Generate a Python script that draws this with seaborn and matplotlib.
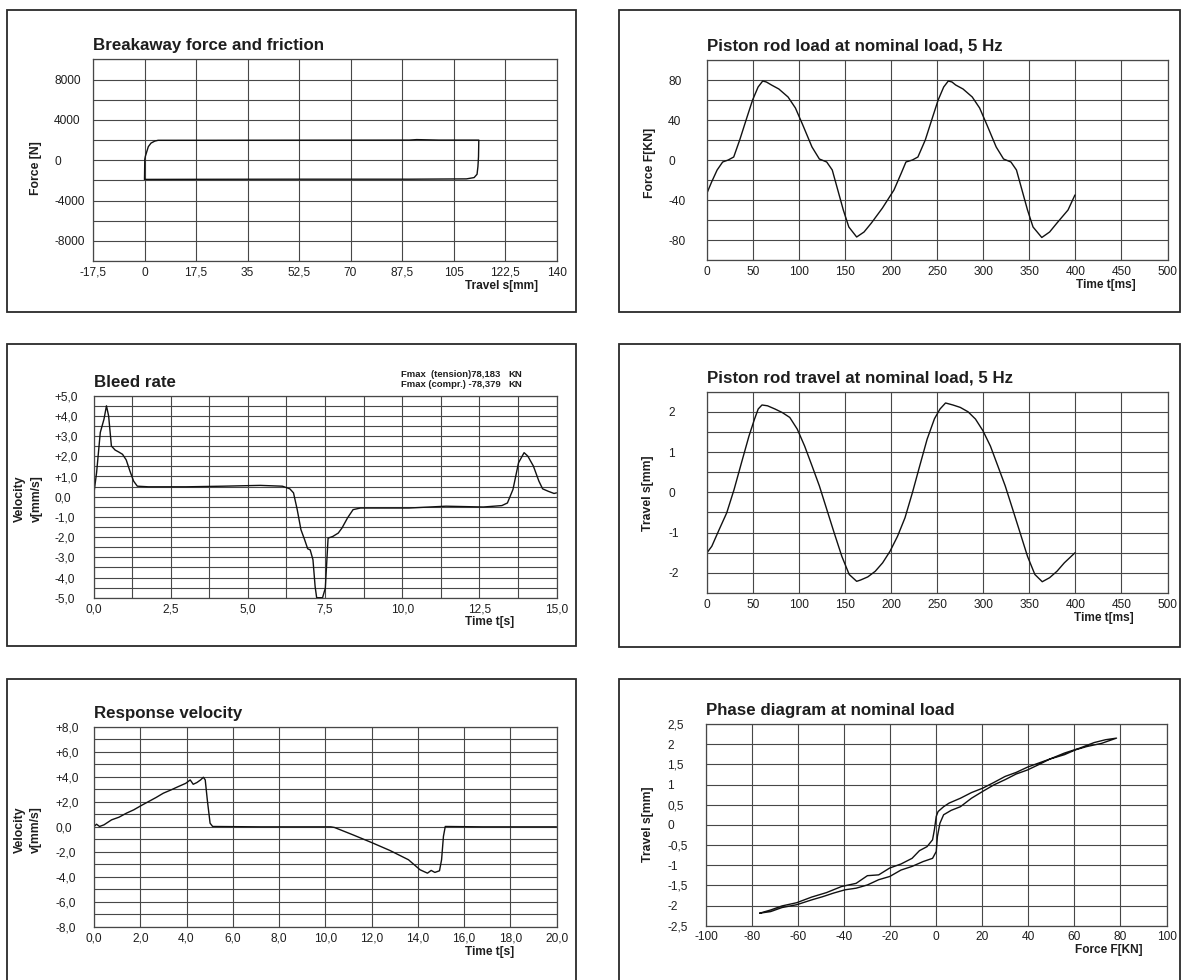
import matplotlib
matplotlib.use("Agg")
import matplotlib.pyplot as plt
from matplotlib.patches import Rectangle
import seaborn as sns
import pandas as pd

sns.set_theme(style="white")
plt.rcParams['font.family'] = ['Liberation Sans', 'DejaVu Sans']

# ---------------- data ----------------
# Panel 1: Breakaway force and friction
p1_travel = [0.0, 0.1, 0.3, 1.3, 2.2, 3.5, 4.6, 20.0, 50.0, 90.0, 92.5, 100.0, 113.6,
             113.5, 113.3, 113.0, 112.0, 109.4, 90.0, 50.0, 20.0, 0.0]
p1_force = [-1900, 100, 400, 1350, 1700, 1900, 1980, 1980, 1990, 2000, 2050, 2000, 2000,
            360, -630, -1390, -1720, -1850, -1880, -1880, -1890, -1900]
p1_xticks = [-17.5, 0, 17.5, 35, 52.5, 70, 87.5, 105, 122.5, 140]
p1_xlabels = ["-17,5", "0", "17,5", "35", "52,5", "70", "87,5", "105", "122,5", "140"]
p1_yticks = [-8000, -4000, 0, 4000, 8000]
p1_ylabels = ["-8000", "-4000", "0", "4000", "8000"]

# Panel 2: Piston rod load at nominal load, 5 Hz
p2_time = [0, 0, 5, 11, 17, 23, 29, 35.5, 43.5, 49.5, 55.5, 60.5, 64.5, 70, 78, 88, 96,
           104, 114, 122, 130, 136, 142, 148, 154, 162.5, 170.5, 178.5, 190.5, 203, 211,
           216, 223, 229, 237, 245, 251, 257, 262, 266, 270, 278, 288, 296, 304, 314,
           322, 330, 336, 342, 348, 354, 363.5, 372, 380, 392, 399.5]
p2_force = [0, -33, -22, -10, -2, 0, 3, 20, 43, 60, 73, 79, 78, 75, 71, 63, 52,
            35, 13, 1, -2, -10, -30, -50, -67, -77, -72, -63, -48, -30, -13,
            -2, 0, 3, 20, 43, 60, 73, 79, 78, 75, 71, 63, 52, 35, 13,
            1, -2, -10, -30, -50, -67, -77.5, -72, -63, -50, -35]
p2_xticks = [0, 50, 100, 150, 200, 250, 300, 350, 400, 450, 500]
p2_yticks = [-80, -40, 0, 40, 80]

# Panel 3: Bleed rate
p3_time = [0.0, 0.1, 0.22, 0.34, 0.42, 0.49, 0.58, 0.7, 0.82, 0.94, 1.06, 1.18, 1.3, 1.42,
           1.78, 3.0, 4.19, 5.4, 6.12, 6.36, 6.48, 6.6, 6.72, 6.84, 6.94, 7.02, 7.11,
           7.18, 7.23, 7.42, 7.51, 7.6, 7.75, 7.93, 8.05, 8.23, 8.41, 8.65, 9.01, 10.22,
           11.42, 12.63, 13.23, 13.41, 13.59, 13.77, 13.95, 14.07, 14.25, 14.43, 14.55,
           14.73, 14.92, 15.0]
p3_vel = [0.02, 1.19, 3.18, 3.84, 4.5, 4.0, 2.51, 2.31, 2.21, 2.1, 1.82, 1.27, 0.77, 0.52,
          0.49, 0.49, 0.52, 0.56, 0.52, 0.39, 0.19, -0.64, -1.63, -2.13, -2.58, -2.63, -3.12,
          -4.45, -5.0, -5.0, -4.53, -2.05, -1.97, -1.8, -1.55, -1.05, -0.64, -0.56, -0.56, -0.56,
          -0.47, -0.51, -0.44, -0.31, 0.36, 1.68, 2.18, 2.01, 1.52, 0.77, 0.39,
          0.27, 0.16, 0.19]
p3_xticks = [0, 2.5, 5, 7.5, 10, 12.5, 15]
p3_xlabels = ["0,0", "2,5", "5,0", "7,5", "10,0", "12,5", "15,0"]
p3_yticks = [-5, -4, -3, -2, -1, 0, 1, 2, 3, 4, 5]
p3_ylabels = ["-5,0", "-4,0", "-3,0", "-2,0", "-1,0", "0,0", "+1,0", "+2,0", "+3,0", "+4,0", "+5,0"]
p3_note_left = ["Fmax  (tension)78,183", "Fmax (compr.) -78,379"]
p3_note_unit = ["KN", "KN"]

# Panel 4: Piston rod travel at nominal load, 5 Hz
p4_time = [0, 0, 5.2, 13.3, 21.4, 29.4, 37.5, 45.6, 51.6, 55.6, 59.7, 65.7, 73.8, 81.9,
           89.9, 98, 106, 114, 122, 130, 138, 146.4, 154.4, 162.5, 166.5, 174.6, 182.7,
           190.7, 198.8, 206.9, 215, 223, 231, 239, 247, 253, 259, 267, 275, 283.5,
           291.5, 299.6, 307.7, 315.7, 323.8, 331.9, 339.9, 348, 356, 364, 372, 380,
           388, 399.6]
p4_travel = [0, -1.50, -1.34, -0.92, -0.51, 0.07, 0.74, 1.40, 1.82, 2.07, 2.17, 2.15, 2.07,
             1.98, 1.86, 1.57, 1.15, 0.66, 0.16, -0.42, -1.0, -1.59, -2.04, -2.21, -2.18,
             -2.10, -1.96, -1.75, -1.46, -1.09, -0.63, -0.01, 0.66, 1.32, 1.83, 2.07, 2.22,
             2.17, 2.11, 2.0, 1.82, 1.53, 1.15, 0.66, 0.16, -0.42, -1.0, -1.59, -2.04,
             -2.22, -2.12, -1.96, -1.75, -1.50]
p4_yticks = [-2, -1, 0, 1, 2]

# Panel 5: Response velocity
p5_time = [0.0, 0.11, 0.24, 0.43, 0.76, 1.08, 1.40, 1.72, 2.04, 2.36, 2.68, 3.0, 3.33,
           3.65, 3.97, 4.16, 4.29, 4.45, 4.61, 4.73, 4.81, 4.90, 5.02, 5.13, 7.19,
           10.24, 10.4, 11.2, 12.0, 12.8, 13.6, 14.1, 14.42, 14.58, 14.74, 14.94, 15.03,
           15.11, 15.19, 16.8, 20.0]
p5_vel = [0.03, 0.21, 0.03, 0.16, 0.56, 0.77, 1.09, 1.36, 1.70, 2.02, 2.34, 2.69, 2.95,
          3.22, 3.48, 3.75, 3.40, 3.54, 3.75, 3.96, 3.75, 2.15, 0.29, 0.03, 0.0,
          0.0, -0.05, -0.64, -1.25, -1.89, -2.63, -3.43, -3.70, -3.48, -3.64, -3.51, -2.63,
          -0.77, 0.03, 0.0, 0.0]
p5_xticks = [0, 2, 4, 6, 8, 10, 12, 14, 16, 18, 20]
p5_xlabels = ["0,0", "2,0", "4,0", "6,0", "8,0", "10,0", "12,0", "14,0", "16,0", "18,0", "20,0"]
p5_yticks = [-8, -6, -4, -2, 0, 2, 4, 6, 8]
p5_ylabels = ["-8,0", "-6,0", "-4,0", "-2,0", "0,0", "+2,0", "+4,0", "+6,0", "+8,0"]

# Panel 6: Phase diagram at nominal load (two branches of the hysteresis loop)
p6_force = [-76.7, -71.9, -67.0, -60.6, -54.1, -47.7, -41.2, -34.8, -29.9, -25.0, -20.2,
            -15.3, -10.5, -7.3, -4.0, -1.6, -0.8, 0.0, 0.8, 3.2, 5.6, 10.5, 15.3, 20.2,
            25.0, 29.9, 34.7, 39.6, 44.4, 49.3, 55.7, 62.2, 68.6, 73.5, 78.3,
            71.8, 65.3, 60.5, 55.7, 49.3, 44.4, 39.6, 34.7, 29.9, 25.0, 20.2, 15.3, 10.5,
            6.5, 3.2, 1.6, 0.5, 0.0, -1.6, -5.7, -10.5, -15.3, -20.2, -25.0, -29.9, -34.8,
            -39.6, -44.5, -49.3, -54.1, -60.6, -67.0, -71.9, -76.7]
p6_travel = [-2.19, -2.11, -2.01, -1.93, -1.79, -1.68, -1.53, -1.45, -1.26, -1.24, -1.07,
             -0.97, -0.83, -0.64, -0.54, -0.37, -0.12, 0.21, 0.33, 0.45, 0.54, 0.66, 0.80,
             0.91, 1.05, 1.20, 1.30, 1.43, 1.53, 1.63, 1.78, 1.90, 2.04, 2.11, 2.15,
             2.02, 1.94, 1.86, 1.74, 1.63, 1.49, 1.36, 1.26, 1.12, 0.99, 0.83, 0.66, 0.45,
             0.36, 0.25, 0.04, -0.29, -0.66, -0.83, -0.91, -1.03, -1.12, -1.28, -1.36, -1.49,
             -1.57, -1.61, -1.69, -1.78, -1.86, -1.98, -2.05, -2.15, -2.19]
p6_xticks = [-100, -80, -60, -40, -20, 0, 20, 40, 60, 80, 100]
p6_yticks = [-2.5, -2, -1.5, -1, -0.5, 0, 0.5, 1, 1.5, 2, 2.5]
p6_ylabels = ["-2,5", "-2", "-1,5", "-1", "-0,5", "0", "0,5", "1", "1,5", "2", "2,5"]

titles = ["Breakaway force and friction", "Piston rod load at nominal load, 5 Hz",
          "Bleed rate", "Piston rod travel at nominal load, 5 Hz",
          "Response velocity", "Phase diagram at nominal load"]

# ---------------- layout ----------------
W, H = 1182, 980
fig = plt.figure(figsize=(W / 100, H / 100), dpi=100)
fig.patch.set_facecolor("white")

GRID = "#474747"
TXT = "#1e1e1e"
TICK_FS = 8.6


def add_ax(l, r, t, b):
    return fig.add_axes([l / W, 1 - b / H, (r - l) / W, (b - t) / H])


def box(x0, y0, x1, y1):
    fig.add_artist(Rectangle((x0 / W, 1 - y1 / H), (x1 - x0) / W, (y1 - y0) / H,
                             transform=fig.transFigure, fill=False, ec="#2a2a2a", lw=1.3))


def style(ax, title, xlim, ylim, xt, xl, yt, yl, xminor, yminor,
          xlabel, ylabel, xlab_pos, ylab_pos):
    ax.set_facecolor("white")
    ax.set_xlim(*xlim)
    ax.set_ylim(*ylim)
    ax.set_xticks(xt, xl, fontsize=TICK_FS, color=TXT)
    ax.set_yticks(yt, yl, fontsize=TICK_FS, color=TXT, ha="left")
    ax.set_xticks(xminor, minor=True)
    ax.set_yticks(yminor, minor=True)
    ax.tick_params(which="both", length=0)
    ax.tick_params(axis="x", pad=4)
    ax.tick_params(axis="y", pad=28)
    ax.grid(which="both", color=GRID, lw=0.8)
    ax.set_axisbelow(True)
    for s in ax.spines.values():
        s.set_color(GRID)
        s.set_linewidth(0.9)
        s.set_visible(True)
    ax.set_title(title, loc="left", fontsize=12.2, fontweight="bold", color=TXT, pad=6.5)
    ax.set_xlabel(xlabel, fontsize=8.6, fontweight="bold", color=TXT)
    ax.xaxis.label.set_ha("right")
    ax.xaxis.label.set_va("top")
    ax.xaxis.set_label_coords(*xlab_pos)
    ax.set_ylabel(ylabel, fontsize=8.8, fontweight="bold", color=TXT, linespacing=1.5)
    ax.yaxis.label.set_va("center")
    ax.yaxis.set_label_coords(*ylab_pos)


def draw(ax, x, y):
    df = pd.DataFrame({"x": x, "y": y})
    sns.lineplot(data=df, x="x", y="y", sort=False, estimator=None, color="#111111",
                 lw=1.0, ax=ax)


def frange(a, b, step):
    out = []
    n = int(round((b - a) / step))
    for i in range(n + 1):
        out.append(round(a + i * step, 6))
    return out


# frames
box(7, 10, 576, 312)
box(619, 10, 1180, 312)
box(7, 344, 576, 646)
box(619, 344, 1180, 647)
box(7, 679, 576, 1010)
box(619, 679, 1180, 1010)

# Panel 1
ax1 = add_ax(93, 556.5, 59.5, 261)
draw(ax1, p1_travel, p1_force)
style(ax1, titles[0], (-17.5, 140), (-10000, 10000), p1_xticks, p1_xlabels,
      p1_yticks, p1_ylabels, p1_xticks, frange(-10000, 10000, 2000),
      "Travel s[mm]", "Force [N]", (0.960, -0.093), (-0.122, 0.46))

# Panel 2
ax2 = add_ax(707, 1167.5, 60, 260)
draw(ax2, p2_time, p2_force)
style(ax2, titles[1], (0, 500), (-100, 100), p2_xticks, [str(v) for v in p2_xticks],
      p2_yticks, [str(v) for v in p2_yticks], p2_xticks, frange(-100, 100, 20),
      "Time t[ms]", "Force F[KN]", (0.930, -0.095), (-0.124, 0.485))

# Panel 3
ax3 = add_ax(93.5, 556.5, 395.7, 597.7)
draw(ax3, p3_time, p3_vel)
style(ax3, titles[2], (0, 15), (-5, 5), p3_xticks, p3_xlabels,
      p3_yticks, p3_ylabels, frange(0, 15, 1.25), frange(-5, 5, 0.5),
      "Time t[s]", "Velocity\nv[mm/s]", (0.908, -0.092), (-0.141, 0.49))
for i, (txt, unit) in enumerate(zip(p3_note_left, p3_note_unit)):
    yy = 1 - (374.8 + i * 9.6) / H
    fig.text(401.0 / W, yy, txt, fontsize=6.8, fontweight="bold", color=TXT,
             ha="left", va="center")
    fig.text(508.3 / W, yy, unit, fontsize=6.8, fontweight="bold", color=TXT,
             ha="left", va="center")

# Panel 4
ax4 = add_ax(707, 1167.5, 391.7, 593)
draw(ax4, p4_time, p4_travel)
style(ax4, titles[3], (0, 500), (-2.5, 2.5), p2_xticks, [str(v) for v in p2_xticks],
      p4_yticks, [str(v) for v in p4_yticks], p2_xticks, frange(-2.5, 2.5, 0.5),
      "Time t[ms]", "Travel s[mm]", (0.926, -0.096), (-0.129, 0.497))

# Panel 5
ax5 = add_ax(94, 556.5, 726.7, 927)
draw(ax5, p5_time, p5_vel)
style(ax5, titles[4], (0, 20), (-8, 8), p5_xticks, p5_xlabels,
      p5_yticks, p5_ylabels, p5_xticks, frange(-8, 8, 1),
      "Time t[s]", "Velocity\nv[mm/s]", (0.908, -0.093), (-0.143, 0.484))

# Panel 6
ax6 = add_ax(706, 1166.5, 724, 925.7)
draw(ax6, p6_force, p6_travel)
style(ax6, titles[5], (-100, 100), (-2.5, 2.5), p6_xticks, [str(v) for v in p6_xticks],
      p6_yticks, p6_ylabels, p6_xticks, p6_yticks,
      "Force F[KN]", "Travel s[mm]", (0.947, -0.091), (-0.127, 0.504))

fig.savefig("out.png", dpi=100, facecolor="white")
